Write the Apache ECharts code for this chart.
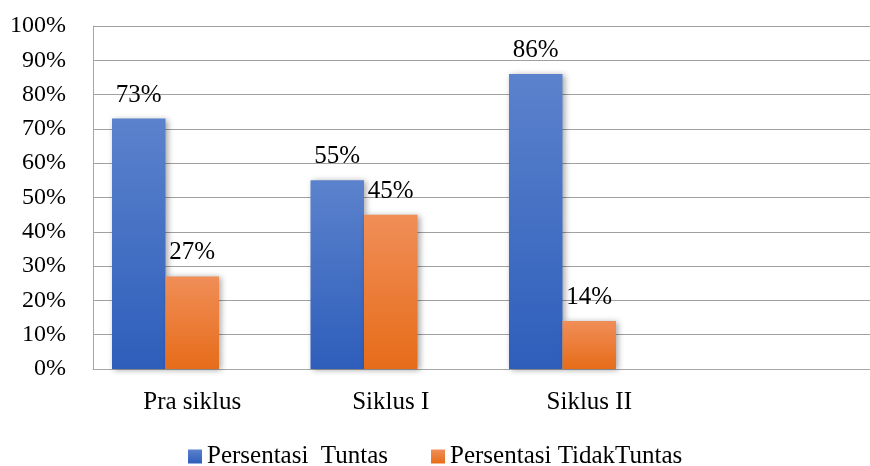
<!DOCTYPE html>
<html>
<head>
<meta charset="utf-8">
<script src="https://cdn.jsdelivr.net/npm/echarts@6/dist/echarts.min.js"></script>
<style>html,body{margin:0;padding:0;background:#fff;overflow:hidden;width:870px;height:466px}#c{width:887px;height:466px}</style>
</head>
<body>
<div id="c"></div>
<script>
var categories = ['Pra siklus', 'Siklus I', 'Siklus II', ''];
var tuntas = [73, 55, 86, null];
var tidakTuntas = [27, 45, 14, null];
var seriesNames = ['Persentasi  Tuntas', 'Persentasi TidakTuntas'];

var FONT = 'Liberation Serif';
var chart = echarts.init(document.getElementById('c'), null, {renderer: 'canvas'});
function grad(top, bottom) {
  return new echarts.graphic.LinearGradient(0, 0, 0, 1, [{offset: 0, color: top}, {offset: 1, color: bottom}]);
}
var lbl = {show: true, position: 'top', distance: 11, color: '#000', fontFamily: FONT, fontSize: 25,
  formatter: function (p) { return p.value == null ? '' : p.value + '%'; }};
chart.setOption({
  animation: false,
  grid: {left: 93, top: 26, right: 0, bottom: 97, containLabel: false},
  legend: {
    data: seriesNames, bottom: -8, left: 183, itemWidth: 14, itemHeight: 14, itemGap: 43,
    icon: 'rect',
    textStyle: {fontFamily: FONT, fontSize: 25, color: '#000', padding: [0, 0, 0, 0]}
  },
  xAxis: {
    type: 'category', data: categories,
    axisLine: {show: true, lineStyle: {color: '#A6A6A6', width: 1}},
    axisTick: {show: false},
    axisLabel: {color: '#000', fontFamily: FONT, fontSize: 25, margin: 21}
  },
  yAxis: {
    type: 'value', min: 0, max: 100, interval: 10,
    axisLine: {show: true, lineStyle: {color: '#A6A6A6', width: 1}},
    axisTick: {show: false},
    splitLine: {lineStyle: {color: '#A0A0A0', width: 1}},
    axisLabel: {color: '#000', fontFamily: FONT, fontSize: 24, margin: 27, formatter: '{value}%'}
  },
  series: [
    {name: seriesNames[0], type: 'bar', data: tuntas, barWidth: 53.5, barGap: '0%', barCategoryGap: '19%',
      itemStyle: {color: grad('#5B82CC', '#2E5EBB'), shadowColor: 'rgba(0,0,0,0.35)', shadowBlur: 6, shadowOffsetX: 2, shadowOffsetY: 1},
      label: lbl},
    {name: seriesNames[1], type: 'bar', data: tidakTuntas, barWidth: 53.5, barGap: '0%',
      itemStyle: {color: grad('#F08E58', '#E66C19'), shadowColor: 'rgba(0,0,0,0.35)', shadowBlur: 6, shadowOffsetX: 2, shadowOffsetY: 1},
      label: lbl},
    {name: 'empty', type: 'bar', data: [null, null, null, null], barWidth: 53.5, barGap: '0%'}
  ]
});
</script>
</body>
</html>
